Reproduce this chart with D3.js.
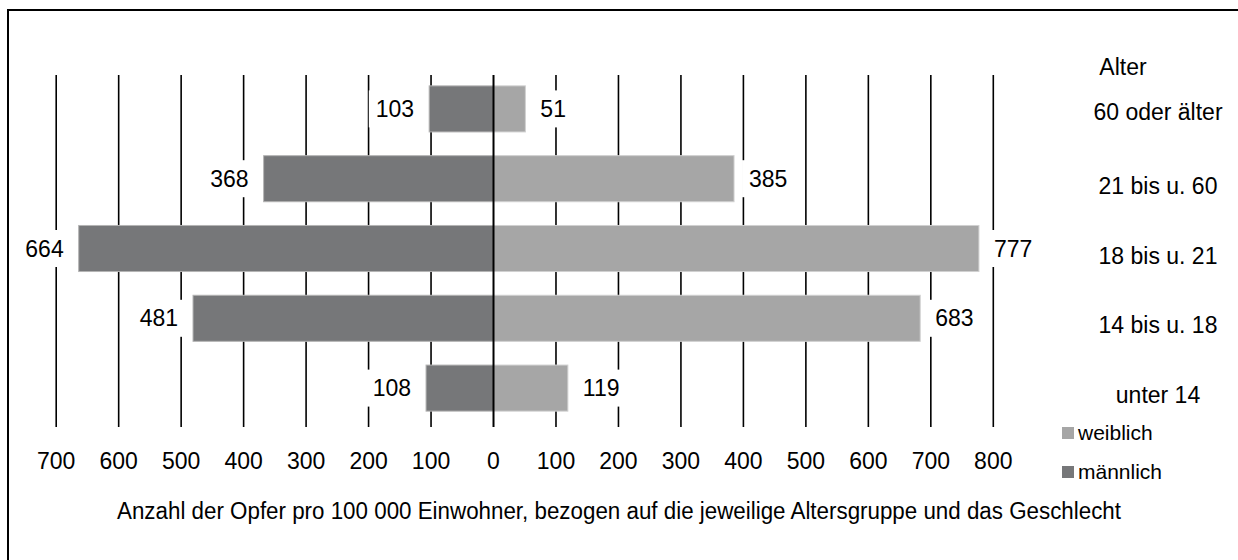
<!DOCTYPE html>
<html>
<head>
<meta charset="utf-8">
<script src="https://cdn.jsdelivr.net/npm/d3@7"></script>
<style>
  body { margin: 0; background: #fff; }
  text { font-family: "Liberation Sans", Arial, sans-serif; fill: #000; }
</style>
</head>
<body>
<script>
// Opfer pro 100 000 Einwohner nach Alter und Geschlecht
const ageGroups = ["60 oder älter", "21 bis u. 60", "18 bis u. 21", "14 bis u. 18", "unter 14"];
const maleValues = [103, 368, 664, 481, 108];
const femaleValues = [51, 385, 777, 683, 119];
const tickValues = [-700, -600, -500, -400, -300, -200, -100, 0, 100, 200, 300, 400, 500, 600, 700, 800];
const legendLabels = ["weiblich", "männlich"];

const width = 1238, height = 560;
const maleColor = "#767779", femaleColor = "#a6a6a6";
const fontSize = 23;

const svg = d3.select("body").append("svg")
    .attr("width", width)
    .attr("height", height);

// frame (right and bottom edges lie outside the picture)
svg.append("path")
    .attr("d", "M8,562 V10 H1240")
    .attr("fill", "none")
    .attr("stroke", "#000")
    .attr("stroke-width", 2);

const x = d3.scaleLinear().domain([-700, 800]).range([56.2, 993.3]);
const y = d3.scaleBand().domain(ageGroups).range([74, 423])
    .paddingInner(0.34).paddingOuter(0.17);

const gridTop = 75, gridBottom = 427;

// gridlines
svg.append("g").selectAll("line")
  .data(tickValues.filter(d => d !== 0))
  .join("line")
    .attr("x1", d => x(d)).attr("x2", d => x(d))
    .attr("y1", gridTop).attr("y2", gridBottom)
    .attr("stroke", "#000")
    .attr("stroke-width", 1.6);

const rows = ageGroups.map((g, i) => ({group: g, male: maleValues[i], female: femaleValues[i]}));

// bars
const bars = svg.append("g");
bars.selectAll(".male").data(rows).join("rect")
    .attr("class", "male")
    .attr("x", d => x(-d.male))
    .attr("y", d => y(d.group))
    .attr("width", d => x(0) - x(-d.male))
    .attr("height", y.bandwidth())
    .attr("fill", maleColor)
    .attr("stroke", "#b4b4b4")
    .attr("stroke-width", 1);
bars.selectAll(".female").data(rows).join("rect")
    .attr("class", "female")
    .attr("x", x(0))
    .attr("y", d => y(d.group))
    .attr("width", d => x(d.female) - x(0))
    .attr("height", y.bandwidth())
    .attr("fill", femaleColor)
    .attr("stroke", "#d0d0d0")
    .attr("stroke-width", 1);

// zero line
svg.append("line")
    .attr("x1", x(0)).attr("x2", x(0))
    .attr("y1", gridTop).attr("y2", gridBottom)
    .attr("stroke", "#000")
    .attr("stroke-width", 2);

// value labels with white boxes
function valueLabel(g, value, xPos, anchor, cy) {
  const t = g.append("text")
      .attr("x", xPos)
      .attr("y", cy)
      .attr("dy", "0.35em")
      .attr("text-anchor", anchor)
      .style("font-size", fontSize + "px")
      .text(value);
  const bb = t.node().getBBox();
  g.insert("rect", "text")
      .attr("x", bb.x - 7)
      .attr("y", cy - 18.5)
      .attr("width", bb.width + 14)
      .attr("height", 37)
      .attr("fill", "#fff");
}

const gap = 15;
rows.forEach(d => {
  const cy = y(d.group) + y.bandwidth() / 2;
  valueLabel(svg.append("g"), d.male, x(-d.male) - gap, "end", cy);
  valueLabel(svg.append("g"), d.female, x(d.female) + gap, "start", cy);
});

// axis tick labels
svg.append("g").selectAll("text")
  .data(tickValues)
  .join("text")
    .attr("x", d => x(d))
    .attr("y", 461)
    .attr("dy", "0.35em")
    .attr("text-anchor", "middle")
    .style("font-size", fontSize + "px")
    .text(d => Math.abs(d));

// age group labels
svg.append("text")
    .attr("x", 1123).attr("y", 67).attr("dy", "0.35em")
    .attr("text-anchor", "middle")
    .style("font-size", fontSize + "px")
    .text("Alter");

svg.append("g").selectAll("text")
  .data(ageGroups)
  .join("text")
    .attr("x", 1158)
    .attr("y", (d, i) => y(d) + y.bandwidth() / 2 + (i === 0 ? 3 : 7))
    .attr("dy", "0.35em")
    .attr("text-anchor", "middle")
    .style("font-size", fontSize + "px")
    .text(d => d);

// legend
const legend = svg.append("g").selectAll("g")
  .data(legendLabels)
  .join("g")
    .attr("transform", (d, i) => `translate(1062,${433 + i * 39})`);
legend.append("rect")
    .attr("x", 0).attr("y", -6)
    .attr("width", 12).attr("height", 12)
    .attr("fill", (d, i) => i === 0 ? femaleColor : maleColor);
legend.append("text")
    .attr("x", 16).attr("y", 0).attr("dy", "0.35em")
    .style("font-size", "21px")
    .text(d => d);

// axis title
svg.append("text")
    .attr("x", 619).attr("y", 511).attr("dy", "0.35em")
    .attr("text-anchor", "middle")
    .attr("textLength", 1004)
    .attr("lengthAdjust", "spacingAndGlyphs")
    .style("font-size", "23px")
    .text("Anzahl der Opfer pro 100 000 Einwohner, bezogen auf die jeweilige Altersgruppe und das Geschlecht");
</script>
</body>
</html>
